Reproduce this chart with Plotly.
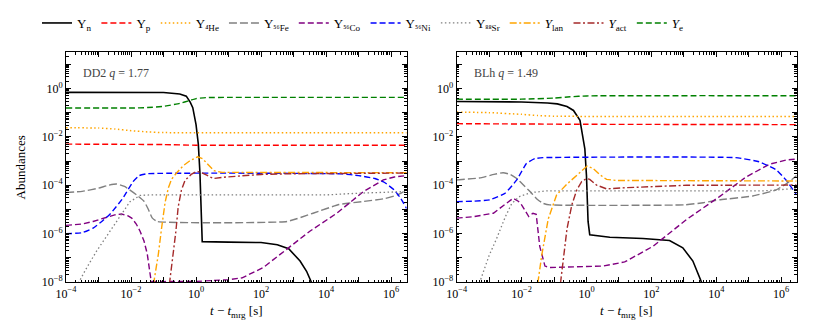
import plotly.graph_objects as go

# ---------------- data ----------------
# left panel: DD2 q = 1.77
dd2_n_t = [1e-4, 1e-2, 1e-1, 0.316, 0.501, 0.661, 0.794, 1.0, 1.175, 1.318, 1.445, 1.549, 10, 100, 316, 708, 1585, 2512, 3802]
dd2_n_y = [0.69, 0.69, 0.68, 0.59, 0.48, 0.27, 0.16, 0.032, 5.0e-3, 3.2e-4, 3.2e-6, 4.7e-7, 4.5e-7, 4.3e-7, 3.5e-7, 2.4e-7, 7.4e-8, 2.8e-8, 7.9e-9]
dd2_p_t = [1e-4, 0.1, 1, 3e6]
dd2_p_y = [5.0e-3, 4.8e-3, 4.5e-3, 4.5e-3]
dd2_he_t = [1e-4, 1e-3, 3.16e-3, 1e-2, 0.0316, 0.1, 3e6]
dd2_he_y = [0.024, 0.023, 0.021, 0.018, 0.016, 0.015, 0.0148]
dd2_fe_t = [1e-4, 3.16e-4, 1e-3, 2e-3, 3.6e-3, 6.3e-3, 0.0148, 0.0251, 0.0331, 0.0447, 0.0631, 631, 3981, 2.51e4, 1.26e5, 6.3e5, 1.58e6, 3e6]
dd2_fe_y = [5.0e-5, 5.6e-5, 7.6e-5, 1.0e-4, 1.12e-4, 8.9e-5, 4.0e-5, 2.2e-5, 1.1e-5, 4.5e-6, 3.2e-6, 3.2e-6, 7.0e-6, 1.6e-5, 2.1e-5, 2.8e-5, 4.0e-5, 6.3e-5]
dd2_co_t = [1e-4, 3.16e-4, 6.8e-4, 1.58e-3, 3.16e-3, 5.1e-3, 7.9e-3, 0.0105, 0.0145, 0.019, 0.0251, 0.0316, 0.0417, 0.1, 1, 10, 26.3, 117, 617, 3162, 2.14e4, 1.41e5, 5.75e5, 1.26e6, 3e6]
dd2_co_y = [2.2e-6, 2.5e-6, 3.2e-6, 4.5e-6, 6.0e-6, 6.5e-6, 5.5e-6, 4.4e-6, 2.5e-6, 1.26e-6, 5.0e-7, 1.45e-7, 1.07e-8, 1.05e-8, 1.07e-8, 1.26e-8, 1.5e-8, 4.0e-8, 2.3e-7, 1.26e-6, 7.0e-6, 5.5e-5, 1.66e-4, 2.2e-4, 2.5e-4]
dd2_ni_t = [1e-4, 3.16e-4, 6.8e-4, 1.26e-3, 2.24e-3, 5.6e-3, 0.0115, 0.0178, 0.0316, 3.16e4, 1e5, 3.16e5, 6.3e5, 1.26e6, 2e6, 3e6]
dd2_ni_y = [1.0e-6, 1.1e-6, 1.7e-6, 3.2e-6, 6.3e-6, 2.9e-5, 1.4e-4, 2.5e-4, 3.0e-4, 2.95e-4, 2.5e-4, 1.9e-4, 1.3e-4, 6.3e-5, 2.8e-5, 1.1e-5]
dd2_sr_t = [2.4e-4, 3.98e-4, 8.7e-4, 1.78e-3, 3.98e-3, 9.3e-3, 0.019, 0.0398, 1e4, 1e5, 3e6]
dd2_sr_y = [9e-9, 3.2e-8, 1.9e-7, 7.9e-7, 4.4e-6, 2.1e-5, 3.8e-5, 4.0e-5, 4.0e-5, 4.7e-5, 5.5e-5]
dd2_lan_t = [0.049, 0.0692, 0.0871, 0.112, 0.141, 0.178, 0.251, 0.398, 0.631, 1.12, 1.58, 2.4, 3.55, 6.31, 3e6]
dd2_lan_y = [8e-9, 1.4e-7, 1.7e-6, 2.0e-5, 7.9e-5, 1.8e-4, 3.2e-4, 6.3e-4, 1.0e-3, 1.5e-3, 1.26e-3, 6.8e-4, 4.0e-4, 3.4e-4, 3.3e-4]
dd2_act_t = [0.151, 0.2, 0.24, 0.282, 0.355, 0.457, 0.708, 1.05, 1.58, 2.14, 3.39, 8.7, 100, 1000, 3e6]
dd2_act_y = [7.9e-9, 1.26e-7, 1.26e-6, 1.26e-5, 6.3e-5, 1.58e-4, 2.8e-4, 3.8e-4, 3.2e-4, 2.6e-4, 1.9e-4, 2.2e-4, 2.8e-4, 3.0e-4, 3.2e-4]
dd2_e_t = [1e-4, 1e-2, 0.0316, 0.1, 0.316, 0.631, 1, 2, 10, 3e6]
dd2_e_y = [0.155, 0.155, 0.162, 0.182, 0.24, 0.316, 0.38, 0.417, 0.427, 0.427]

# right panel: BLh q = 1.49
blh_n_t = [1e-4, 1e-2, 0.0631, 0.126, 0.251, 0.398, 0.631, 0.891, 1.0, 1.12, 1.26, 5.25, 55, 363, 933, 1905, 3631]
blh_n_y = [0.29, 0.275, 0.25, 0.23, 0.18, 0.123, 0.048, 3.2e-3, 2.5e-4, 3.2e-6, 9.1e-7, 7.1e-7, 6.3e-7, 5.2e-7, 2.6e-7, 7.4e-8, 8.9e-9]
blh_p_t = [1e-4, 1, 3e6]
blh_p_y = [0.035, 0.033, 0.032]
blh_he_t = [1e-4, 1e-3, 1e-2, 0.0316, 0.1, 3e6]
blh_he_y = [0.105, 0.1, 0.085, 0.076, 0.071, 0.069]
blh_fe_t = [1e-4, 5.0e-4, 1.41e-3, 2.7e-3, 4.5e-3, 7.1e-3, 0.0112, 0.0182, 0.0316, 0.0457, 0.0741, 1000, 3981, 1.26e4, 1.35e5, 7.1e5, 1.58e6, 3e6]
blh_fe_y = [1.66e-4, 2.0e-4, 2.8e-4, 3.3e-4, 2.8e-4, 1.9e-4, 1.05e-4, 5.5e-5, 2.5e-5, 1.8e-5, 1.55e-5, 1.55e-5, 1.9e-5, 2.5e-5, 3.6e-5, 6.5e-5, 1.26e-4, 2.5e-4]
blh_co_t = [1e-4, 3.16e-4, 1.35e-3, 3.16e-3, 5.5e-3, 7.9e-3, 0.01, 0.0166, 0.0224, 0.0282, 0.0363, 0.0525, 0.0741, 3.24, 15.1, 112, 1202, 1.26e4, 8.3e4, 4.4e5, 1.41e6, 3e6]
blh_co_y = [4.4e-6, 5.0e-6, 7.0e-6, 1.6e-5, 2.9e-5, 2.2e-5, 1.55e-5, 5.1e-6, 7.0e-6, 6.3e-6, 3.0e-7, 4.6e-8, 4.0e-8, 4.6e-8, 6.8e-8, 3.0e-7, 3.8e-6, 3.4e-5, 2.2e-4, 7.4e-4, 1.1e-3, 1.2e-3]
blh_ni_t = [1e-4, 3.16e-4, 1.05e-3, 3.1e-3, 7.1e-3, 0.0141, 0.0257, 0.0457, 3.98e4, 2.14e5, 7.1e5, 1.41e6, 3e6]
blh_ni_y = [2.1e-5, 2.2e-5, 2.5e-5, 4.7e-5, 1.66e-4, 7.9e-4, 1.26e-3, 1.38e-3, 1.38e-3, 9.3e-4, 4.3e-4, 1.66e-4, 4.0e-5]
blh_sr_t = [5.0e-4, 1e-3, 1.7e-3, 3.16e-3, 5.0e-3, 8.9e-3, 0.02, 0.063, 3.16e5, 3e6]
blh_sr_y = [9e-9, 1.26e-7, 6.3e-7, 5.0e-6, 1.78e-5, 3.5e-5, 5.0e-5, 5.9e-5, 5.9e-5, 7.4e-5]
blh_lan_t = [0.0316, 0.0417, 0.0661, 0.12, 0.251, 0.447, 0.708, 1.05, 1.58, 2.51, 4.17, 8.3, 3e6]
blh_lan_y = [8.9e-9, 1.26e-7, 4.0e-6, 4.0e-5, 1.12e-4, 2.24e-4, 4.2e-4, 6.2e-4, 5.0e-4, 2.8e-4, 1.74e-4, 1.58e-4, 1.5e-4]
blh_act_t = [0.158, 0.2, 0.251, 0.355, 0.501, 0.708, 1.0, 1.26, 2.04, 4.17, 15.1, 1202, 3e6]
blh_act_y = [8.9e-9, 1.26e-7, 1.58e-6, 1.58e-5, 6.3e-5, 1.41e-4, 1.9e-4, 1.74e-4, 1.02e-4, 7.1e-5, 7.9e-5, 1.0e-4, 1.02e-4]
blh_e_t = [1e-4, 1e-2, 0.1, 0.316, 1, 3e6]
blh_e_y = [0.36, 0.36, 0.4, 0.45, 0.49, 0.5]

labels = ["Y<sub>n</sub>", "Y<sub>p</sub>", "Y<sub>⁴He</sub>", "Y<sub>⁵⁶Fe</sub>", "Y<sub>⁵⁶Co</sub>",
          "Y<sub>⁵⁶Ni</sub>", "Y<sub>⁸⁸Sr</sub>", "<i>Y</i><sub>lan</sub>", "<i>Y</i><sub>act</sub>", "<i>Y</i><sub>e</sub>"]
panel_names = ["DD2 <i>q</i> = 1.77", "BLh <i>q</i> = 1.49"]
x_tickvals = [1e-4, 1e-3, 1e-2, 1e-1, 1, 10, 100, 1e3, 1e4, 1e5, 1e6]
x_ticktext = ["10<sup>−4</sup>", "", "10<sup>−2</sup>", "", "10<sup>0</sup>", "", "10<sup>2</sup>", "",
              "10<sup>4</sup>", "", "10<sup>6</sup>"]
y_tickvals = [1e-8, 1e-7, 1e-6, 1e-5, 1e-4, 1e-3, 1e-2, 1e-1, 1, 10]
y_ticktext = ["10<sup>−8</sup>", "", "10<sup>−6</sup>", "", "10<sup>−4</sup>", "", "10<sup>−2</sup>", "",
              "10<sup>0</sup>", ""]

# styles per species (line shape: smooth ones spline, sharp ones linear)
styles = [
    dict(color="black", dash="solid", width=1.6),
    dict(color="red", dash="6px,3px", width=1.4),
    dict(color="orange", dash="1.5px,2.5px", width=1.5),
    dict(color="gray", dash="8px,3px", width=1.4),
    dict(color="purple", dash="6px,3px", width=1.4),
    dict(color="blue", dash="6px,3px", width=1.4),
    dict(color="gray", dash="1.5px,2.5px", width=1.3),
    dict(color="orange", dash="7px,2.5px,2px,2.5px", width=1.4),
    dict(color="brown", dash="7px,2.5px,2px,2.5px", width=1.4),
    dict(color="green", dash="6px,3px", width=1.4),
]
shapes = ["linear", "spline", "spline", "spline", "linear", "spline", "linear", "linear", "linear", "spline"]

panels = [
    [(dd2_n_t, dd2_n_y), (dd2_p_t, dd2_p_y), (dd2_he_t, dd2_he_y), (dd2_fe_t, dd2_fe_y), (dd2_co_t, dd2_co_y),
     (dd2_ni_t, dd2_ni_y), (dd2_sr_t, dd2_sr_y), (dd2_lan_t, dd2_lan_y), (dd2_act_t, dd2_act_y), (dd2_e_t, dd2_e_y)],
    [(blh_n_t, blh_n_y), (blh_p_t, blh_p_y), (blh_he_t, blh_he_y), (blh_fe_t, blh_fe_y), (blh_co_t, blh_co_y),
     (blh_ni_t, blh_ni_y), (blh_sr_t, blh_sr_y), (blh_lan_t, blh_lan_y), (blh_act_t, blh_act_y), (blh_e_t, blh_e_y)],
]

FONT = "Liberation Serif"
# the page body adds an 8px margin, so the figure is drawn 16px smaller than the window
W, H = 814, 316

fig = go.Figure()
for p, series in enumerate(panels):
    xa = "x" if p == 0 else "x2"
    ya = "y" if p == 0 else "y2"
    for i, (t, y) in enumerate(series):
        line = dict(shape=shapes[i], **styles[i])
        if shapes[i] == "spline":
            line["smoothing"] = 0.4
        fig.add_trace(go.Scatter(
            x=t, y=y, mode="lines", name=labels[i], xaxis=xa, yaxis=ya,
            line=line, showlegend=(p == 0),
        ))

axis_common = dict(
    type="log", showgrid=False, zeroline=False, automargin=False,
    showline=True, linecolor="black", linewidth=1, mirror="allticks",
    ticks="inside", ticklen=5, tickwidth=1, tickcolor="black",
    minor=dict(ticks="inside", ticklen=2.5, tickwidth=0.8, tickcolor="black", dtick="D1", showgrid=False),
    tickfont=dict(family=FONT, size=12, color="black"),
)
xdom = [[58 / W, 398.7 / W], [448.7 / W, 788.7 / W]]
ydom = [(H - 273.7) / H, (H - 41.5) / H]
for p in range(2):
    sx = "" if p == 0 else "2"
    fig.update_layout(**{
        "xaxis" + sx: dict(axis_common, domain=xdom[p], range=[-4, 6.48], anchor="y" + sx,
                           tickmode="array", tickvals=x_tickvals, ticktext=x_ticktext),
        "yaxis" + sx: dict(axis_common, domain=ydom, range=[-8, 1.5], anchor="x" + sx,
                           tickmode="array", tickvals=y_tickvals, ticktext=y_ticktext),
    })
    fig.add_annotation(text=panel_names[p], xref="x%s domain" % sx, yref="y%s domain" % sx,
                       x=0.045, y=0.91, xanchor="left", yanchor="middle", showarrow=False,
                       font=dict(family=FONT, size=12, color="#444"))
    fig.add_annotation(text="<i>t</i> − <i>t</i><sub>mrg</sub> [s]", xref="x%s domain" % sx, yref="paper",
                       x=0.5, y=(H - 303) / H, xanchor="center", yanchor="middle", showarrow=False,
                       font=dict(family=FONT, size=13, color="black"))

fig.add_annotation(text="Abundances", xref="paper", yref="paper", x=12 / W, y=(H - 158) / H,
                   textangle=-90, xanchor="center", yanchor="middle", showarrow=False,
                   font=dict(family=FONT, size=13, color="black"))

fig.update_layout(
    width=W, height=H,
    margin=dict(l=0, r=0, t=0, b=0),
    plot_bgcolor="white", paper_bgcolor="white",
    font=dict(family=FONT, size=12, color="black"),
    legend=dict(orientation="h", x=29 / W, y=1.01, xanchor="left", yanchor="top",
                font=dict(family=FONT, size=13), bgcolor="rgba(0,0,0,0)", itemwidth=30),
)

fig.write_html("out.html")
